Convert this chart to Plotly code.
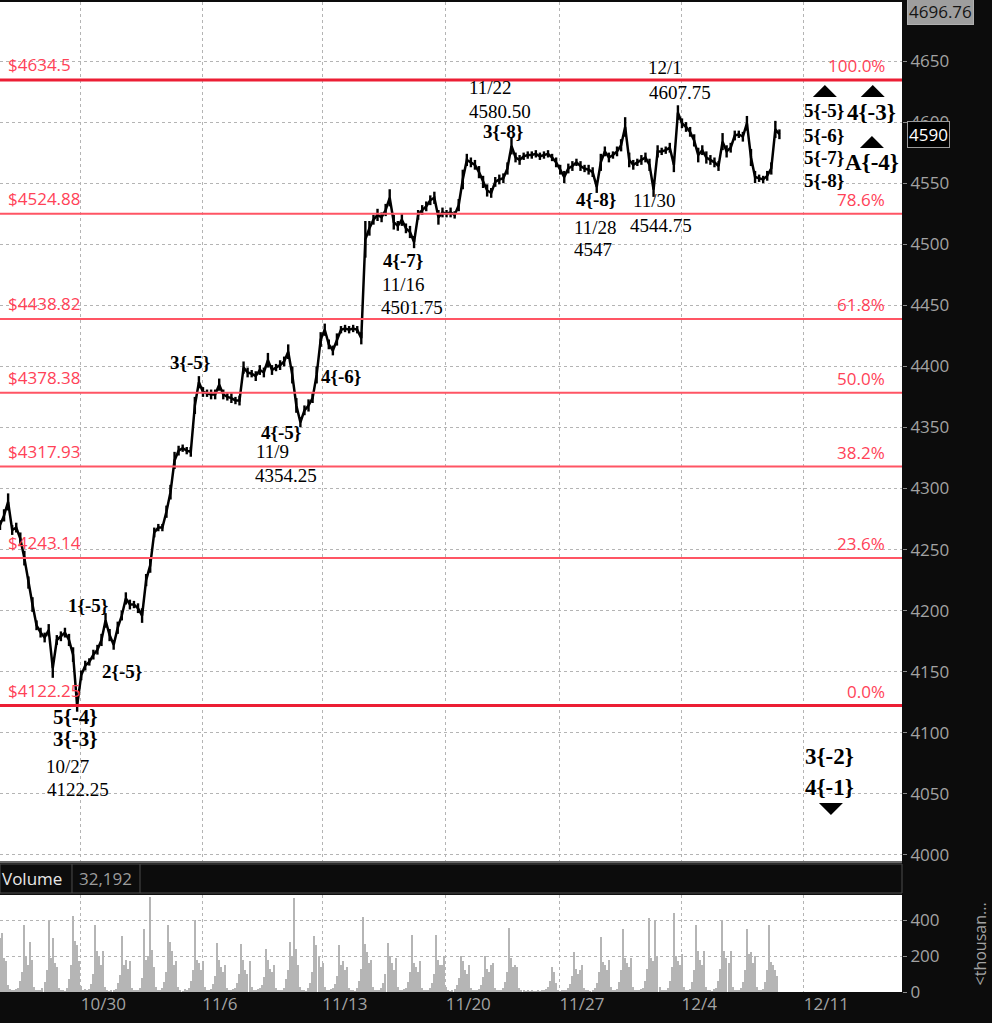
import plotly.graph_objects as go

# ---------------- data ----------------
# price path, one value per bar (about 6 bars per trading day)
price = [
    4270, 4278, 4289, 4266, 4268, 4259, 4243, 4223, 4205, 4188,
    4182, 4178, 4184, 4153, 4176, 4179, 4182, 4176, 4164, 4122.25,
    4147, 4155, 4158, 4164, 4168, 4176, 4192, 4180, 4172, 4186,
    4196, 4210, 4205, 4205, 4202, 4196, 4225, 4237, 4264, 4268,
    4268, 4281, 4297, 4323, 4331, 4333, 4331, 4330, 4368, 4387,
    4379, 4378, 4377, 4377, 4385, 4377, 4375, 4374, 4372, 4372,
    4399, 4395, 4394, 4392, 4397, 4395, 4405, 4397, 4399, 4401,
    4404, 4412, 4393, 4368, 4354.25, 4364, 4368, 4374, 4393, 4422,
    4430, 4418, 4413, 4422, 4430, 4431, 4430, 4431, 4430, 4423,
    4504, 4513, 4520, 4524, 4522, 4528, 4538, 4518, 4515, 4520,
    4513, 4510, 4501.75, 4524, 4528, 4531, 4536, 4538, 4522, 4526,
    4525, 4526, 4524, 4532, 4553, 4569, 4567, 4565, 4559, 4551,
    4544, 4542, 4551, 4553, 4554, 4562, 4580.5, 4571, 4569, 4572,
    4573, 4573, 4574, 4572, 4573, 4574, 4571, 4567, 4561, 4555,
    4562, 4564, 4567, 4564, 4562, 4561, 4559, 4547, 4567, 4576,
    4571, 4573, 4576, 4581, 4596, 4569, 4565, 4567, 4569, 4571,
    4565, 4544.75, 4576, 4576, 4577, 4579, 4565, 4607.75, 4599, 4596,
    4592, 4585, 4573, 4577, 4571, 4569, 4567, 4564, 4584, 4576,
    4579, 4589, 4590, 4588, 4599, 4571, 4555, 4554, 4553, 4556,
    4562, 4594, 4590,
]

# half of each bar's high-low range (points)
half_range = [
    4, 5, 7, 4, 4, 5, 6, 5, 6, 4,
    4, 4, 5, 8, 4, 4, 4, 5, 6, 5,
    4, 4, 3, 4, 4, 5, 6, 5, 4, 5,
    4, 5, 4, 3, 4, 6, 5, 6, 4, 3,
    3, 5, 6, 7, 4, 3, 3, 4, 7, 5,
    4, 3, 4, 4, 5, 4, 3, 4, 3, 4,
    5, 4, 3, 4, 4, 4, 6, 4, 3, 4,
    4, 6, 7, 6, 4, 4, 5, 4, 7, 6,
    5, 4, 4, 5, 3, 3, 3, 3, 3, 5,
    15, 6, 4, 5, 4, 5, 7, 6, 4, 5,
    4, 5, 5, 4, 4, 4, 4, 5, 6, 4,
    3, 4, 3, 5, 8, 5, 4, 4, 5, 5,
    5, 4, 4, 4, 4, 5, 7, 4, 4, 3,
    3, 3, 3, 3, 3, 3, 3, 4, 4, 5,
    4, 4, 3, 4, 3, 4, 4, 5, 7, 4,
    4, 3, 4, 5, 8, 6, 4, 3, 4, 4,
    5, 6, 5, 3, 3, 4, 6, 6, 4, 4,
    4, 5, 6, 4, 5, 4, 4, 4, 7, 5,
    4, 4, 3, 4, 6, 7, 5, 3, 3, 4,
    5, 7, 4,
]

# volume (thousands), two bars per price bar
volume = [
    300, 330, 190, 170, 40, 15, 10, 12, 18, 25,
    60, 110, 370, 200, 150, 280, 180, 30, 12, 9, 14, 20,
    55, 120, 400, 190, 300, 160, 140, 25, 10, 13, 8, 22,
    70, 150, 420, 285, 260, 170, 35, 12, 15, 9, 18,
    45, 100, 370, 230, 200, 150, 230, 30, 11, 8, 14, 10, 19,
    50, 95, 310, 150, 180, 130, 170, 25, 14, 10, 12, 24,
    80, 350, 180, 200, 530, 235, 140, 30, 9, 13, 20,
    55, 110, 370, 280, 230, 150, 170, 28, 12, 8, 15, 11, 22,
    60, 120, 400, 180, 160, 120, 175, 30, 10, 14, 18,
    45, 90, 275, 180, 140, 110, 150, 25, 9, 12, 15, 20,
    50, 100, 265, 180, 120, 100, 170, 28, 13, 10, 16, 22,
    40, 85, 240, 180, 130, 110, 150, 25, 11, 9, 14, 24,
    70, 120, 280, 200, 520, 240, 150, 30, 10, 14, 8, 20,
    50, 110, 310, 260, 200, 140, 160, 28, 12, 9, 15, 21,
    45, 90, 260, 150, 170, 120, 140, 25, 10, 13, 8, 22,
    60, 130, 415, 265, 220, 160, 180, 30, 14, 11, 9, 20,
    50, 100, 275, 200, 160, 120, 190, 28, 12, 10, 15, 22,
    55, 110, 315, 160, 140, 110, 170, 25, 9, 13, 11, 20,
    50, 100, 315, 180, 150, 150, 200, 28, 12, 8, 14, 18,
    40, 80, 200, 175, 120, 100, 150, 22, 10, 12, 9, 19,
    40, 85, 200, 130, 110, 150, 160, 24, 11, 9, 13, 20,
    55, 110, 355, 190, 140, 150, 140, 25,
    12, 9, 8, 10, 7, 9, 6, 8, 10, 7, 9, 12, 15,
    30, 60, 140, 110, 50, 10, 8, 12, 9, 14, 20,
    45, 90, 225, 130, 100, 120, 150, 25, 12, 10, 8, 14, 20,
    50, 110, 305, 165, 150, 120, 180, 26, 11, 14, 19,
    55, 120, 350, 190, 160, 140, 190, 28, 10, 13, 9, 15, 22,
    60, 130, 410, 190, 170, 400, 200, 30, 12, 9, 14, 20,
    60, 140, 440, 200, 170, 150, 210, 28, 11, 13, 18,
    55, 120, 375, 230, 180, 150, 230, 27, 10, 12, 8, 15, 21,
    60, 130, 400, 230, 190, 160, 230, 28, 12, 9, 14, 20,
    55, 120, 350, 210, 220, 160, 200, 26, 11, 13, 19,
    55, 120, 375, 165, 150, 120, 90,
]

tick_pos = [19.9, 49.8, 79.4, 109.8, 137.8, 167.9, 198.0]
tick_text = ["10/30", "11/6", "11/13", "11/20", "11/27", "12/4", "12/11"]

fib_levels = [4634.5, 4524.88, 4438.82, 4378.38, 4317.93, 4243.14, 4122.25]
fib_prices = ["$4634.5", "$4524.88", "$4438.82", "$4378.38", "$4317.93", "$4243.14", "$4122.25"]
fib_pcts = ["100.0%", "78.6%", "61.8%", "50.0%", "38.2%", "23.6%", "0.0%"]

# (text, bar position, price, font size, bold)
wave_labels = [
    ("11/22", 120.9, 4628.5, 19, False),
    ("4580.50", 123.2, 4609.0, 19, False),
    ("3{-8}", 123.9, 4592.0, 19, True),
    ("12/1", 163.8, 4644.3, 19, False),
    ("4607.75", 167.5, 4624.6, 19, False),
    ("4{-8}", 146.8, 4537.0, 19, True),
    ("11/28", 146.6, 4513.3, 19, False),
    ("4547", 146.1, 4495.3, 19, False),
    ("11/30", 161.3, 4535.4, 19, False),
    ("4544.75", 162.8, 4515.7, 19, False),
    ("4{-7}", 99.3, 4486.3, 19, True),
    ("11/16", 99.5, 4467.4, 19, False),
    ("4501.75", 101.5, 4447.8, 19, False),
    ("4{-6}", 84.0, 4392.1, 19, True),
    ("3{-5}", 46.8, 4402.8, 19, True),
    ("4{-5}", 69.2, 4345.5, 19, True),
    ("11/9", 67.2, 4329.9, 19, False),
    ("4354.25", 70.4, 4310.3, 19, False),
    ("1{-5}", 21.7, 4204.6, 19, True),
    ("2{-5}", 30.0, 4149.8, 19, True),
    ("5{-4}", 18.5, 4113.0, 21, True),
    ("3{-3}", 18.5, 4094.9, 21, True),
    ("10/27", 16.7, 4072.0, 19, False),
    ("4122.25", 19.2, 4053.2, 19, False),
    ("5{-5}", 203.0, 4609.1, 19, True),
    ("5{-6}", 203.0, 4588.6, 19, True),
    ("5{-7}", 203.0, 4570.6, 19, True),
    ("5{-8}", 203.0, 4551.8, 19, True),
    ("4{-3}", 214.8, 4608.2, 23, True),
    ("A{-4}", 214.8, 4567.3, 23, True),
    ("3{-2}", 204.4, 4080.2, 23, True),
    ("4{-1}", 204.4, 4055.6, 23, True),
]
up_marks = [(203.2, 4625.4), (215.0, 4625.4), (214.8, 4583.7)]
down_marks = [(204.7, 4037.6)]

last_price = 4590
top_price = "4696.76"
volume_value = "32,192"

# ---------------- figure ----------------
GRID = "#b4b4b4"
AXIS_TXT = "#a3a3a3"

fig = go.Figure()
fig.add_trace(go.Scatter(
    x=list(range(len(price))), y=price, mode="lines",
    line=dict(color="black", width=2.5), xaxis="x", yaxis="y",
    error_y=dict(type="data", array=half_range, symmetric=True, color="black",
                 thickness=2.4, width=0),
    hoverinfo="skip"))
fig.add_trace(go.Bar(
    x=[j * 0.5 for j in range(len(volume))], y=volume,
    marker=dict(color="#b5b5b5", line=dict(width=0)), width=0.32,
    xaxis="x2", yaxis="y2", hoverinfo="skip"))

shapes = []
annotations = []

for lvl, ptxt, pct in zip(fib_levels, fib_prices, fib_pcts):
    thick = pct in ("100.0%", "0.0%")
    shapes.append(dict(type="line", xref="paper", x0=0, x1=1, yref="y", y0=lvl, y1=lvl,
                       line=dict(color="rgb(236,30,52)" if thick else "rgb(255,85,100)",
                                 width=3 if thick else 2), layer="above"))
    annotations.append(dict(text=ptxt, xref="paper", x=0.0066, xanchor="left",
                            yref="y", y=lvl, yanchor="middle", yshift=15, showarrow=False,
                            font=dict(family="Open Sans", size=17, color="#ff4257")))
    annotations.append(dict(text=pct, xref="paper", x=0.9834, xanchor="right",
                            yref="y", y=lvl, yanchor="middle", yshift=14, showarrow=False,
                            font=dict(family="Open Sans", size=17, color="#ff4257")))

for txt, xv, yv, sz, bold in wave_labels:
    annotations.append(dict(text=f"<b>{txt}</b>" if bold else txt, x=xv, y=yv,
                            xref="x", yref="y", showarrow=False,
                            xanchor="center", yanchor="middle",
                            font=dict(family="Liberation Serif", size=sz, color="black")))

for xv, yv in up_marks:
    shapes.append(dict(type="path", xref="x", yref="y", xsizemode="pixel", ysizemode="pixel",
                       xanchor=xv, yanchor=yv, path="M-12,-6 L12,-6 L0,6 Z",
                       fillcolor="black", line=dict(width=0)))
for xv, yv in down_marks:
    shapes.append(dict(type="path", xref="x", yref="y", xsizemode="pixel", ysizemode="pixel",
                       xanchor=xv, yanchor=yv, path="M-12,6 L12,6 L0,-6 Z",
                       fillcolor="black", line=dict(width=0)))

# volume header band
shapes.append(dict(type="rect", xref="paper", yref="paper", x0=0, x1=1, y0=0.1, y1=0.1293,
                   line=dict(color="#4d4d4d", width=1), fillcolor="rgba(0,0,0,0)"))
shapes.append(dict(type="line", xref="paper", yref="paper", x0=0.0798, x1=0.0798, y0=0.1, y1=0.1293,
                   line=dict(color="#4d4d4d", width=1)))
shapes.append(dict(type="line", xref="paper", yref="paper", x0=0.1552, x1=0.1552, y0=0.1, y1=0.1293,
                   line=dict(color="#4d4d4d", width=1)))
shapes.append(dict(type="line", xref="paper", yref="paper", x0=0, x1=1, y0=0.1313, y1=0.1313,
                   line=dict(color="#6a6a6a", width=2)))

annotations.append(dict(text="Volume", xref="paper", yref="paper", x=0.0, y=0.1147,
                        xanchor="left", yanchor="middle", showarrow=False,
                        font=dict(family="Open Sans", size=17, color="#e8e8e8")))
annotations.append(dict(text=volume_value, xref="paper", yref="paper", x=0.0854, y=0.1147,
                        xanchor="left", yanchor="middle", showarrow=False,
                        font=dict(family="Open Sans", size=17, color="#9c9c9c")))
annotations.append(dict(text=top_price, xref="paper", yref="paper", x=1.0055, y=0.9899,
                        xanchor="left", yanchor="middle", showarrow=False,
                        bgcolor="#9e9e9e", bordercolor="#b0b0b0", borderwidth=1, borderpad=1,
                        font=dict(family="Open Sans", size=17, color="#151515")))
annotations.append(dict(text=str(last_price), xref="paper", yref="y", x=1.0055, y=last_price,
                        xanchor="left", yanchor="middle", showarrow=False,
                        bgcolor="black", bordercolor="#9a9a9a", borderwidth=1, borderpad=1,
                        font=dict(family="Open Sans", size=17, color="white")))
annotations.append(dict(text="&lt;thousan...", xref="paper", yref="paper", x=1.087, y=0.0485,
                        xanchor="center", yanchor="middle", textangle=-90, showarrow=False,
                        font=dict(family="Open Sans", size=16, color=AXIS_TXT)))

fig.update_layout(
    width=992, height=1023,
    margin=dict(l=0, r=90, t=2, b=31, autoexpand=False),
    paper_bgcolor="#0c0c0c", plot_bgcolor="white",
    showlegend=False, bargap=0,
    shapes=shapes, annotations=annotations,
    xaxis=dict(domain=[0, 1], range=[0, 222.2], anchor="y", tickvals=tick_pos,
               showticklabels=False, showgrid=True, gridcolor=GRID, griddash="dot",
               gridwidth=1, zeroline=False, showline=False, ticks=""),
    xaxis2=dict(domain=[0, 1], range=[0, 222.2], anchor="y2", matches="x",
                tickvals=tick_pos, ticktext=tick_text, ticklabelposition="outside right",
                tickfont=dict(family="Open Sans", size=17, color=AXIS_TXT),
                showgrid=True, gridcolor=GRID, griddash="dot", gridwidth=1,
                zeroline=False, showline=False, ticks=""),
    yaxis=dict(domain=[0.1313, 1], range=[3994.2, 4698.3], side="right", anchor="x",
               tick0=4000, dtick=50, showgrid=True, gridcolor=GRID, griddash="dot",
               zeroline=False, ticks="outside", ticklen=4, tickcolor="#8a8a8a",
               tickfont=dict(family="Open Sans", size=17, color=AXIS_TXT)),
    yaxis2=dict(domain=[0, 0.098], range=[0, 539], side="right", anchor="x2",
                tickvals=[0, 200, 400], showgrid=True, gridcolor=GRID, griddash="dot",
                zeroline=False, ticks="outside", ticklen=4, tickcolor="#8a8a8a",
                tickfont=dict(family="Open Sans", size=17, color=AXIS_TXT)),
)

fig.write_html("out.html", config={"displayModeBar": False},
               post_script="document.body.style.margin='0px';document.body.style.background='#0c0c0c';")
